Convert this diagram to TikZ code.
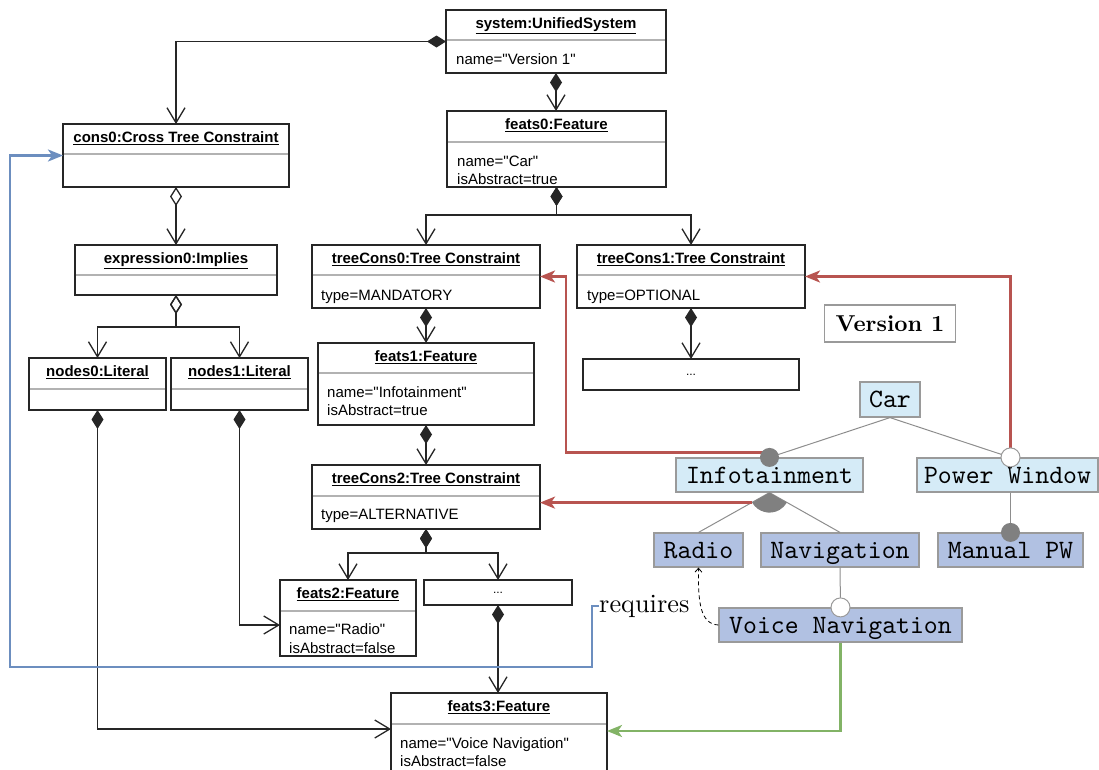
\documentclass[tikz,border=0pt]{standalone}
\usepackage{fontspec}
\newfontfamily\umlfont{Liberation Sans}
\newfontfamily\fmfont{lmmono10-regular.otf}
\newfontfamily\reqfont{lmroman10-regular.otf}
\newfontfamily\verfont{lmroman10-bold.otf}
\usetikzlibrary{arrows.meta,calc}

\definecolor{fmlight}{HTML}{D5EBF7}
\definecolor{fmdark}{HTML}{B1C1E2}
\definecolor{fmborder}{HTML}{9A9A9A}
\definecolor{dotgray}{HTML}{808080}
\definecolor{linkred}{HTML}{B85450}
\definecolor{linkblue}{HTML}{6C8EBF}
\definecolor{linkgreen}{HTML}{82B366}

\tikzset{
  umlbox/.style={draw=black!85, line width=1.4pt, anchor=north west, inner sep=0pt, outer sep=0pt},
  umltitle/.style={font=\umlfont\bfseries\fontsize{15}{18}\selectfont, anchor=base, inner sep=0pt},
  umlattr/.style={font=\umlfont\fontsize{15}{18}\selectfont, anchor=base west, inner sep=0pt},
  dotstext/.style={font=\umlfont\fontsize{12}{14}\selectfont, inner sep=0pt},
  umlsep/.style={draw=black!30, line width=1.6pt},
  comp/.style={draw=black!85, line width=1.3pt,
    {Diamond[length=19pt,width=12pt]}-{Straight Barb[length=15pt,width=18pt]}},
  aggr/.style={draw=black!85, line width=1.3pt,
    {Diamond[open,length=19pt,width=12pt]}-{Straight Barb[length=15pt,width=18pt]}},
  feat/.style={draw=fmborder, line width=1.2pt, inner sep=0pt,
    font=\fmfont\fontsize{26.5}{26.5}\selectfont, text height=16.2pt, text depth=0pt},
  fmline/.style={draw=dotgray!90, line width=1pt},
  fulldot/.style={circle, fill=dotgray, inner sep=0pt, minimum size=19pt},
  opendot/.style={circle, draw=fmborder, fill=white, line width=1pt, inner sep=0pt, minimum size=19pt},
  redlink/.style={draw=linkred, line width=2.5pt, -{Stealth[length=15pt,width=12pt,inset=4pt]}},
  bluelink/.style={draw=linkblue, line width=2.5pt, -{Stealth[length=15pt,width=12pt,inset=4pt]}},
  greenlink/.style={draw=linkgreen, line width=2.5pt, -{Stealth[length=15pt,width=12pt,inset=4pt]}},
  reqline/.style={draw=black, line width=0.8pt, dash pattern=on 4pt off 3pt,
    -{Straight Barb[length=4pt,width=7pt]}},
}

% object box: name, x1, y1, x2, y2, separator offset, title
\newcommand\umlobj[7]{%
  \node[umlbox, minimum width={(#4-#2)*1pt}, minimum height={(#5-#3)*1pt}] (#1) at (#2,#3) {};
  \draw[umlsep] ($(#1.north west)+(0.8,#6)$) -- ($(#1.north east)+(-0.8,#6)$);
  \node[umltitle] (#1-title) at ($(#1.north)+(0,18.5)$) {\underline{#7}};
}

\begin{document}
\begin{tikzpicture}[x=1pt,y=-1pt]
\useasboundingbox (0,0) rectangle (1099,769);
\clip (0,0) rectangle (1099,769);

% ---------- object diagram ----------
\umlobj{system}{446}{10}{666}{73}{30}{system:UnifiedSystem}
\node[umlattr] (system-a1) at (456,64) {name="Version 1"};

\umlobj{feats0}{447}{111}{666}{187}{31}{feats0:Feature}
\node[umlattr] (feats0-a1) at (457,166) {name="Car"};
\node[umlattr] (feats0-a2) at (457,184) {isAbstract=true};

\umlobj{cons0}{63}{124}{289}{187}{30}{cons0:Cross Tree Constraint}
\umlobj{expr0}{75}{245}{277}{295}{30}{expression0:Implies}
\umlobj{nodes0}{29}{358}{166}{410}{31}{nodes0:Literal}
\umlobj{nodes1}{171}{358}{308}{410}{31}{nodes1:Literal}

\umlobj{tc0}{312}{245}{540}{308}{30}{treeCons0:Tree Constraint}
\node[umlattr] (tc0-a1) at (321,300) {type=MANDATORY};

\umlobj{tc1}{577}{245}{805}{308}{30}{treeCons1:Tree Constraint}
\node[umlattr] (tc1-a1) at (587,300) {type=OPTIONAL};

\umlobj{feats1}{318}{343}{534}{425}{30}{feats1:Feature}
\node[umlattr] (feats1-a1) at (327,397) {name="Infotainment"};
\node[umlattr] (feats1-a2) at (327,415) {isAbstract=true};

\node[umlbox, minimum width=216pt, minimum height=31pt] (dots1) at (583,359) {};
\node[dotstext] (dots1-text) at (dots1.center) {...};

\umlobj{tc2}{312}{465}{540}{529}{31}{treeCons2:Tree Constraint}
\node[umlattr] (tc2-a1) at (321,519) {type=ALTERNATIVE};

\umlobj{feats2}{280}{580}{416}{656}{31}{feats2:Feature}
\node[umlattr] (feats2-a1) at (289,634) {name="Radio"};
\node[umlattr] (feats2-a2) at (289,653) {isAbstract=false};

\node[umlbox, minimum width=148pt, minimum height=25pt] (dots2) at (424,580) {};
\node[dotstext] (dots2-text) at (dots2.center) {...};

\umlobj{feats3}{391}{693}{607}{771}{31}{feats3:Feature}
\node[umlattr] (feats3-a1) at (400,748) {name="Voice Navigation"};
\node[umlattr] (feats3-a2) at (400,766) {isAbstract=false};

% ---------- compositions and aggregations ----------
\draw[comp] (system.west) -| (cons0.north);
\draw[comp] (system.south) -- (system.south |- feats0.north);
\draw[comp] (feats0.south) -- ++(0,28) -| (tc0.north);
\draw[comp] (feats0.south) -- ++(0,28) -| (tc1.north);
\draw[aggr] (cons0.south) -- (expr0.north);
\draw[aggr] (expr0.south) -- ++(0,32) -| (nodes0.north);
\draw[aggr] (expr0.south) -- ++(0,32) -| (nodes1.north);
\draw[comp] (nodes0.south) |- ($(feats3.west)+(0,-3)$);
\draw[comp] (nodes1.south) |- ($(feats2.west)+(0,7)$);
\draw[comp] (tc0.south) -- (feats1.north);
\draw[comp] (feats1.south) -- (tc2.north);
\draw[comp] (tc1.south) -- (dots1.north);
\draw[comp] (tc2.south) -- ++(0,24) -| (feats2.north);
\draw[comp] (tc2.south) -- ++(0,24) -| (dots2.north);
\draw[comp] (dots2.south) -- (dots2.south |- feats3.north);

% ---------- feature model ----------
\node[draw=fmborder, line width=1.2pt, inner sep=0pt, minimum width=131pt, minimum height=37pt,
  font=\verfont\fontsize{23}{23}\selectfont] (ver) at (890,323.5) {Version 1};

\node[feat, fill=fmlight, minimum width=60pt, minimum height=35pt] (car) at (890,399.5) {Car};
\node[feat, fill=fmlight, minimum width=187pt, minimum height=34pt] (inf) at (769.5,475) {Infotainment};
\node[feat, fill=fmlight, minimum width=181pt, minimum height=34pt] (pw) at (1007.5,475) {Power Window};
\node[feat, fill=fmdark, minimum width=89pt, minimum height=34pt] (radio) at (698.5,550) {Radio};
\node[feat, fill=fmdark, minimum width=158pt, minimum height=34pt] (nav) at (840,550) {Navigation};
\node[feat, fill=fmdark, minimum width=145pt, minimum height=34pt] (mpw) at (1010.5,550) {Manual PW};
\node[feat, fill=fmdark, minimum width=243pt, minimum height=34pt] (vn) at (840.5,625) {Voice Navigation};

\coordinate (infdot) at (inf.north);
\coordinate (pwdot) at (mpw.north |- pw.north);
\coordinate (altwedge) at ($(inf.south)+(150:20)$);

\draw[fmline] (car.south) -- (infdot);
\draw[fmline] (car.south) -- (pwdot);
\draw[fmline] (pw.south -| mpw.north) -- (mpw.north);
\draw[fmline] (nav.south) -- (vn.north);
\draw[fmline] (inf.south) -- (radio.north);
\draw[fmline] (inf.south) -- (nav.north);
\fill[dotgray] (inf.south) -- (altwedge) arc[start angle=150, end angle=30, radius=20] -- cycle;

% trace links into the object diagram
\draw[redlink] ($(infdot)+(0,-5)$) -| ($(tc0.east)+(26,0)$) -- (tc0.east);
\draw[redlink] (pwdot) |- (tc1.east);
\draw[redlink] (altwedge) -- (altwedge -| tc2.east);

\node[fulldot] (infdot-mark) at (infdot) {};
\node[opendot] (pwdot-mark) at (pwdot) {};
\node[fulldot] (mpwdot-mark) at (mpw.north) {};
\node[opendot] (vndot-mark) at (vn.north) {};

% cross-tree constraint
\draw[reqline] (vn.west) .. controls (700,624) and (698,602) .. (radio.south);
\node[font=\reqfont\fontsize{26.3}{26.3}\selectfont, anchor=base west, inner sep=0pt] (req) at (599,612) {requires};

\draw[bluelink] (req.west) -| (592,667) -| ($(cons0.west)+(-53,0)$) -- (cons0.west);
\draw[greenlink] (vn.south) |- ($(feats3.east)+(0,-1)$);
\end{tikzpicture}
\end{document}
